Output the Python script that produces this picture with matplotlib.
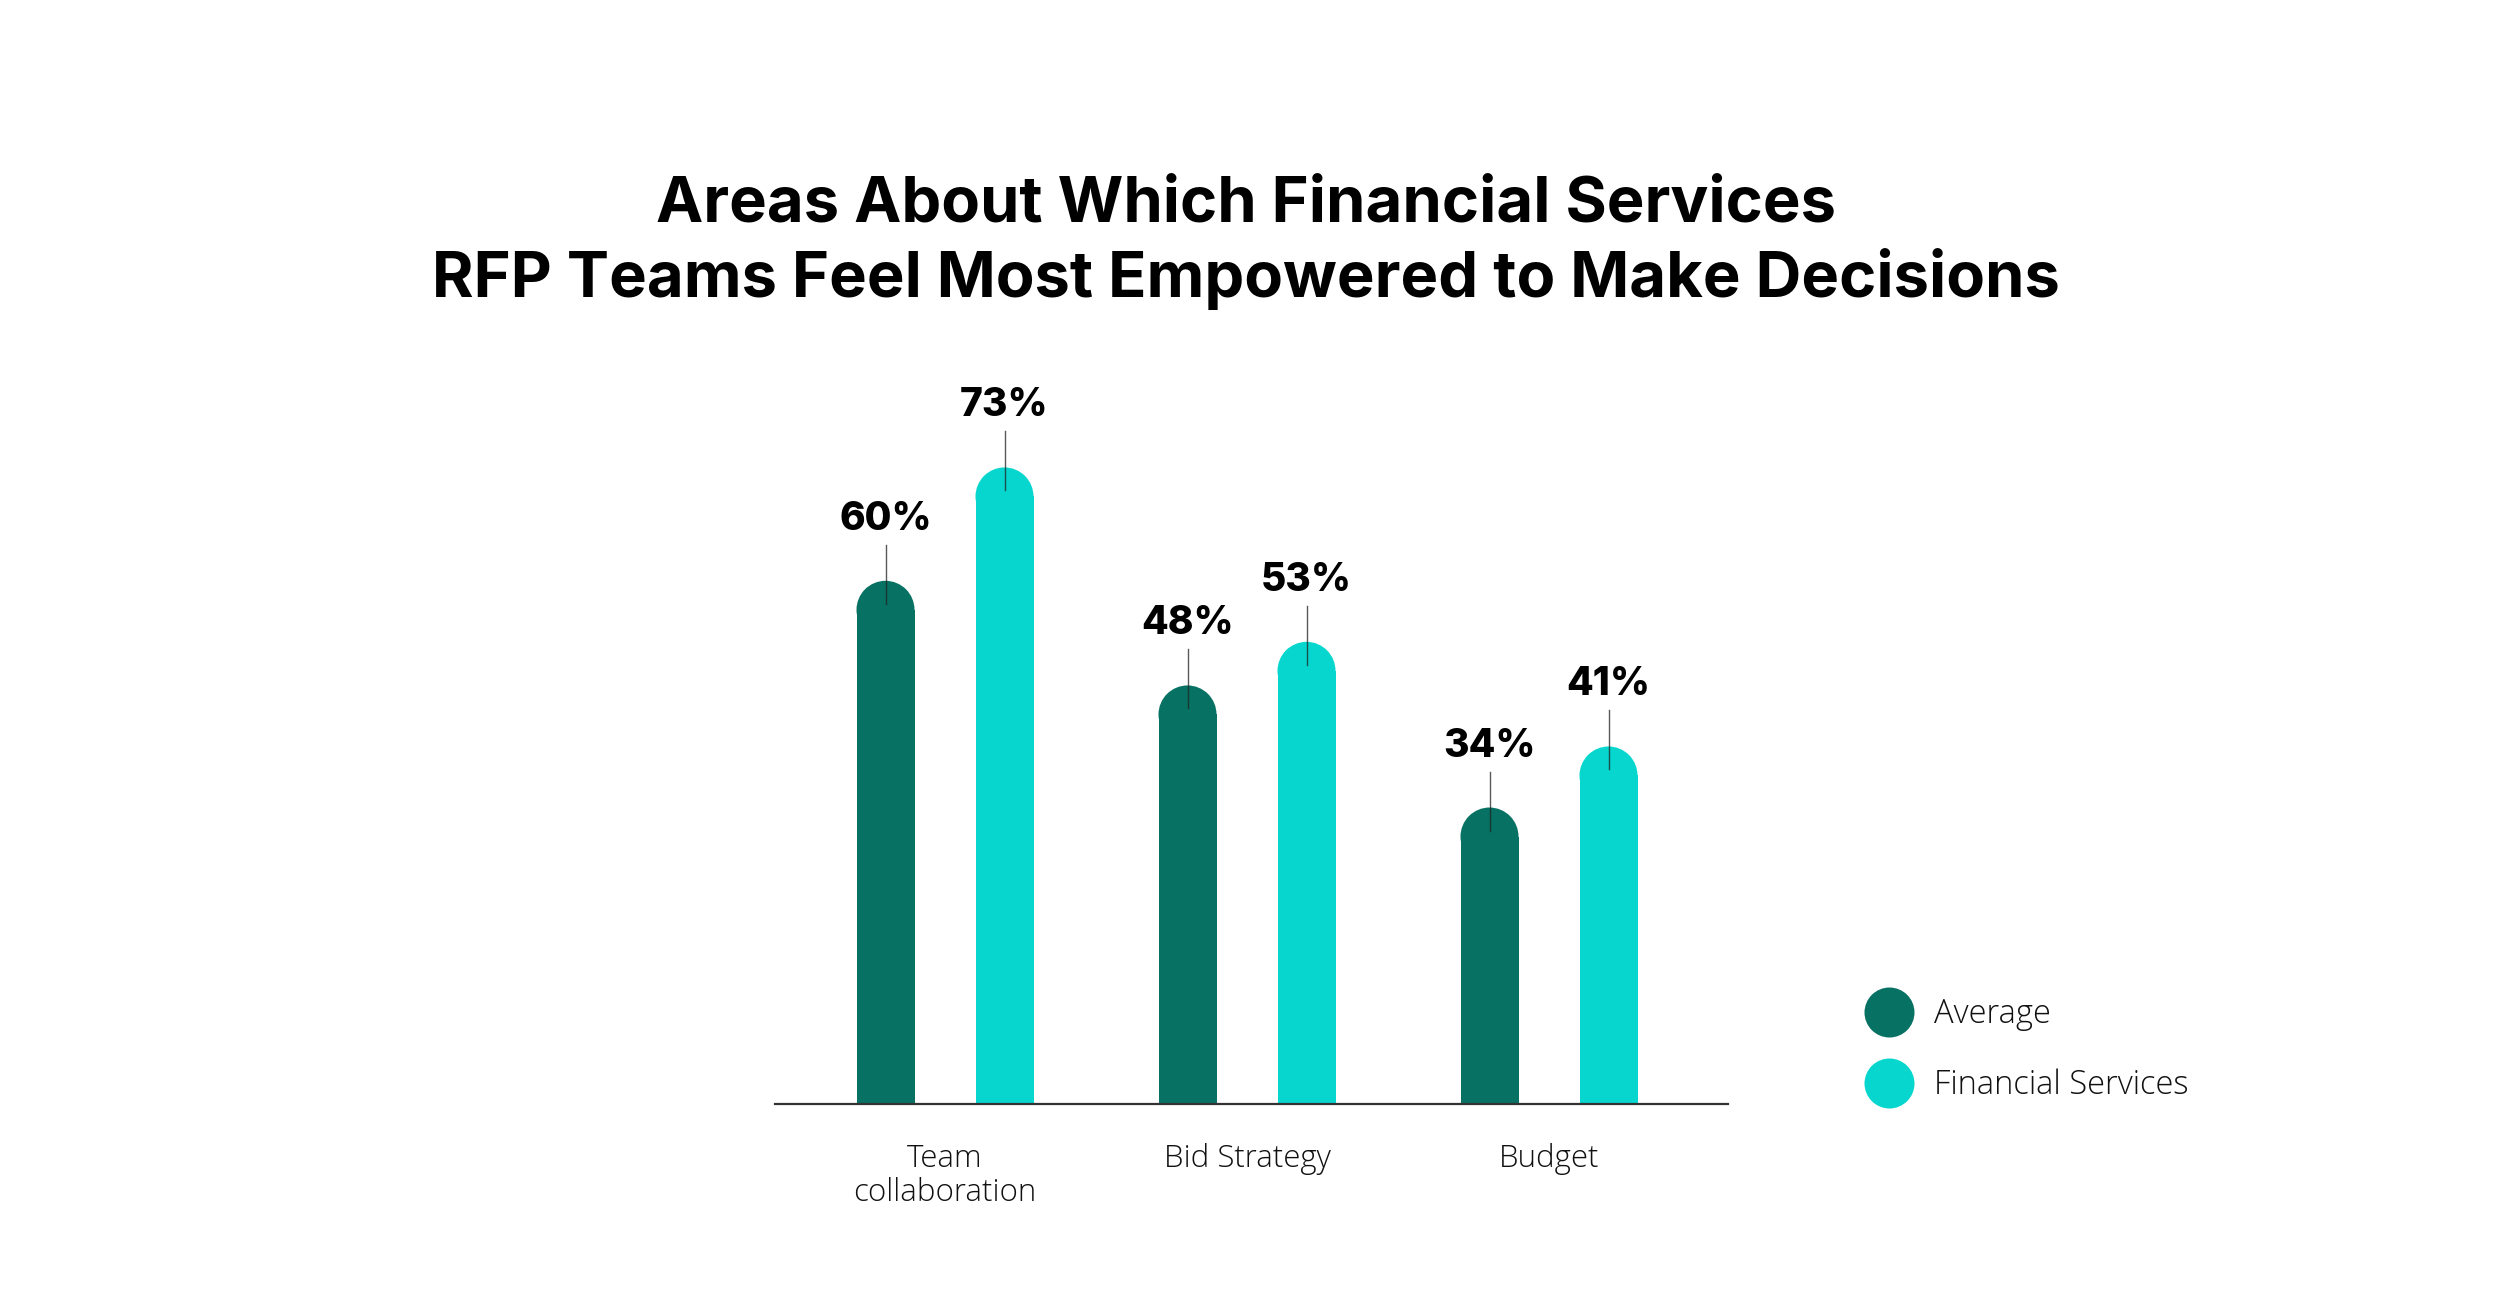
import matplotlib
matplotlib.use("Agg")
import matplotlib.pyplot as plt
from matplotlib.patches import Ellipse
from matplotlib.lines import Line2D
import numpy as np

# data
categories = ["Team\ncollaboration", "Bid Strategy", "Budget"]
series_names = ["Average", "Financial Services"]
average = [60, 48, 34]
financial = [73, 53, 41]

title_lines = ["Areas About Which Financial Services",
               "RFP Teams Feel Most Empowered to Make Decisions"]

dark = "#077163"
cyan = "#06D6CD"
W, H = 2500, 1313

fig = plt.figure(figsize=(W / 100, H / 100), dpi=100)
fig.patch.set_facecolor("white")

# axes placed in pixel terms: x 775..1728, baseline at y=1104, 8.72 px per %
ax = fig.add_axes([775 / W, (H - 1104) / H, 953 / W, 872 / H])
px_x = 302.0   # px per category unit
px_y = 8.72    # px per percent
ax.set_xlim((775 - 945) / px_x, (1728 - 945) / px_x)
ax.set_ylim(0, 100)

x = np.arange(len(categories))
bw = 58 / px_x
off = 59.5 / px_x
r_y = (bw * px_x / 2) / px_y   # cap radius in y units

for vals, xs, col in [(average, x - off, dark), (financial, x + off, cyan)]:
    for xi, v in zip(xs, vals):
        ax.bar(xi, v - r_y, width=bw, color=col, linewidth=0, zorder=2)
        ax.add_patch(Ellipse((xi, v - r_y), bw, 2 * r_y, facecolor=col,
                             edgecolor="none", zorder=2))
        ax.plot([xi, xi], [v + 36 / px_y, v - 23 / px_y], color="#222222",
                lw=1.0, alpha=0.75, zorder=3)
        ax.text(xi, v + 51 / px_y, f"{v}%", ha="center", va="baseline",
                fontsize=28, fontweight="heavy", family="Inter", color="black")

for s in ["top", "right", "left"]:
    ax.spines[s].set_visible(False)
ax.spines["bottom"].set_color("#333333")
ax.spines["bottom"].set_linewidth(1.6)
ax.set_yticks([])
ax.set_xticks(x)
ax.set_xticklabels(categories, fontsize=22.5, family="Open Sans", fontweight="light",
                   linespacing=1.1, color="#111111")
ax.tick_params(axis="x", length=0, pad=28)

# title, fitted to measured width of the longest line
renderer = fig.canvas.get_renderer()
t1 = fig.text(1246 / W, (H - 222) / H, title_lines[0], ha="center", va="baseline",
              fontsize=46, fontweight="bold", family="Inter")
t2 = fig.text(1246 / W, (H - 297) / H, title_lines[1], ha="center", va="baseline",
              fontsize=46, fontweight="bold", family="Inter")
wpx = t2.get_window_extent(renderer).width
fs = 46 * 1628 / wpx
t1.set_fontsize(fs)
t2.set_fontsize(fs)

# legend
handles = [Line2D([0], [0], marker="o", linestyle="none", markersize=36,
                  markerfacecolor=c, markeredgecolor="none") for c in (dark, cyan)]
leg = fig.legend(handles, series_names, loc="center left",
                 bbox_to_anchor=(1873 / W, (H - 1050) / H),
                 frameon=False, borderpad=0, borderaxespad=0,
                 handlelength=1.0, handletextpad=0.86, labelspacing=1.15,
                 prop={"family": "Open Sans", "size": 23.5, "weight": "light"})
for t in leg.get_texts():
    t.set_color("#111111")

fig.savefig("out.png", dpi=100, facecolor="white")
